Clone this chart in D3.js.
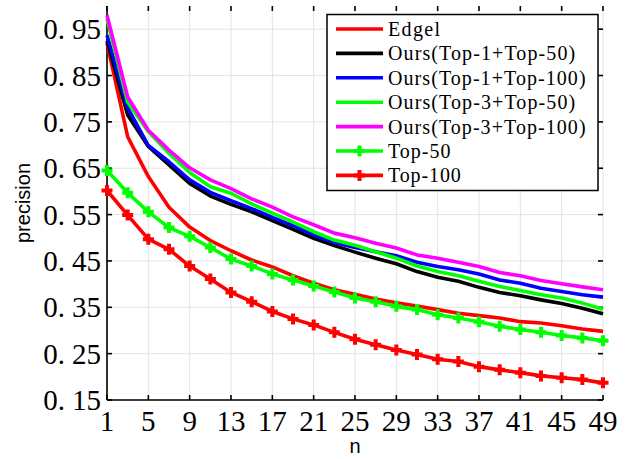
<!DOCTYPE html>
<html><head><meta charset="utf-8">
<script src="https://cdn.jsdelivr.net/npm/d3@7"></script>
<style>html,body{margin:0;padding:0;background:#fff;}svg{display:block;}</style>
</head><body>
<svg id="c" width="628" height="459"></svg>
<script>
const nVals = [1,3,5,7,9,11,13,15,17,19,21,23,25,27,29,31,33,35,37,39,41,43,45,47,49];
const edgel   = [0.920,0.718,0.632,0.566,0.523,0.494,0.472,0.452,0.437,0.418,0.402,0.388,0.378,0.368,0.360,0.353,0.345,0.337,0.332,0.327,0.319,0.316,0.310,0.303,0.298];
const ours1_50  = [0.925,0.765,0.697,0.657,0.617,0.590,0.572,0.556,0.537,0.518,0.499,0.483,0.469,0.456,0.444,0.427,0.415,0.406,0.393,0.382,0.375,0.366,0.358,0.348,0.336];
const ours1_100 = [0.937,0.780,0.699,0.664,0.625,0.598,0.580,0.563,0.544,0.526,0.506,0.490,0.479,0.470,0.461,0.447,0.438,0.431,0.422,0.409,0.402,0.391,0.384,0.377,0.372];
const ours3_50  = [0.972,0.793,0.729,0.682,0.641,0.610,0.596,0.573,0.553,0.534,0.513,0.495,0.484,0.470,0.456,0.439,0.427,0.418,0.406,0.395,0.386,0.377,0.370,0.359,0.346];
const ours3_100 = [0.980,0.804,0.732,0.689,0.651,0.625,0.606,0.584,0.566,0.545,0.528,0.510,0.500,0.488,0.478,0.463,0.456,0.447,0.438,0.425,0.418,0.408,0.401,0.394,0.388];
const top50  = [0.645,0.597,0.556,0.522,0.503,0.479,0.454,0.439,0.422,0.409,0.396,0.383,0.370,0.362,0.352,0.345,0.334,0.327,0.319,0.309,0.302,0.296,0.289,0.284,0.278];
const top100 = [0.602,0.549,0.497,0.475,0.439,0.411,0.382,0.362,0.341,0.325,0.312,0.296,0.281,0.269,0.258,0.248,0.238,0.233,0.222,0.215,0.209,0.202,0.198,0.194,0.187];
const seriesNames = ["Edgel","Ours(Top-1+Top-50)","Ours(Top-1+Top-100)","Ours(Top-3+Top-50)","Ours(Top-3+Top-100)","Top-50","Top-100"];
const seriesValues = [edgel,ours1_50,ours1_100,ours3_50,ours3_100,top50,top100];
const seriesColors = ["#ff0000","#000000","#0000ff","#00ff00","#ff00ff","#00ff00","#ff0000"];
const seriesMarkers = [false,false,false,false,false,true,true];
const xTicks = [1,5,9,13,17,21,25,29,33,37,41,45,49];
const yTicks = [0.15,0.25,0.35,0.45,0.55,0.65,0.75,0.85,0.95];

const L=107,R=603,T=6,B=400;
const svg = d3.select("#c");
const x = d3.scaleLinear().domain([1,49]).range([L,R]);
const y = d3.scaleLinear().domain([0.15,1.0]).range([B,T]);

// grid
const g = svg.append("g");
g.selectAll(".gx").data(xTicks).join("line")
  .attr("x1",d=>x(d)).attr("x2",d=>x(d)).attr("y1",T).attr("y2",B)
  .attr("stroke","#e3e3e3").attr("stroke-width",1);
g.selectAll(".gy").data(yTicks).join("line")
  .attr("y1",d=>y(d)).attr("y2",d=>y(d)).attr("x1",L).attr("x2",R)
  .attr("stroke","#e3e3e3").attr("stroke-width",1);

// axes (inward ticks)
const tk = 5;
const ax = svg.append("g").attr("stroke","#000").attr("stroke-width",1.6);
ax.append("line").attr("x1",L).attr("x2",L).attr("y1",T).attr("y2",B);
ax.append("line").attr("x1",L).attr("x2",R).attr("y1",B).attr("y2",B);
xTicks.forEach(d=>{
  ax.append("line").attr("x1",x(d)).attr("x2",x(d)).attr("y1",B).attr("y2",B-tk);
  ax.append("line").attr("x1",x(d)).attr("x2",x(d)).attr("y1",T).attr("y2",T+tk);
});
yTicks.forEach(d=>{
  ax.append("line").attr("x1",L).attr("x2",L+tk).attr("y1",y(d)).attr("y2",y(d));
  ax.append("line").attr("x1",R).attr("x2",R-tk).attr("y1",y(d)).attr("y2",y(d));
});

// tick labels
const tf = "'Liberation Serif', 'Times New Roman', serif";
svg.append("g").selectAll("text").data(xTicks).join("text")
  .attr("x",d=>x(d)).attr("y",431).attr("text-anchor","middle")
  .attr("font-family",tf).attr("font-size",29).attr("fill","#000")
  .text(d=>String(d));
const yl = svg.append("g").selectAll("text").data(yTicks).join("text")
  .attr("x",101).attr("y",d=>y(d)+10).attr("text-anchor","end")
  .attr("font-family",tf).attr("font-size",29).attr("fill","#000");
yl.append("tspan").text(d=>d.toFixed(2).slice(0,2));
yl.append("tspan").attr("dx",7).text(d=>d.toFixed(2).slice(2));

// axis titles
svg.append("text").attr("x",(L+R)/2).attr("y",453).attr("text-anchor","middle")
  .attr("font-family","'Liberation Sans', Arial, sans-serif").attr("font-size",20).text("n");
svg.append("text").attr("transform",`translate(30,${(T+B)/2}) rotate(-90)`).attr("text-anchor","middle")
  .attr("font-family","'Liberation Sans', Arial, sans-serif").attr("font-size",20).text("precision");

// lines
const line = d3.line().x((d,i)=>x(nVals[i])).y(d=>y(d));
const plusPath = (s)=>`M${-s},0H${s}M0,${-s}V${s}`;
seriesValues.forEach((vals,k)=>{
  const sg = svg.append("g");
  sg.append("path").datum(vals).attr("d",line).attr("fill","none")
    .attr("stroke",seriesColors[k]).attr("stroke-width",3.6).attr("stroke-linejoin","round");
  if(seriesMarkers[k]){
    sg.selectAll("path.m").data(vals).join("path").attr("class","m")
      .attr("transform",(d,i)=>`translate(${x(nVals[i])},${y(d)})`)
      .attr("d",plusPath(5.5)).attr("stroke",seriesColors[k]).attr("stroke-width",4).attr("fill","none");
  }
});

// legend
const lg = svg.append("g");
lg.append("rect").attr("x",327).attr("y",14.5).attr("width",271).attr("height",176)
  .attr("fill","#fff").attr("stroke","#000").attr("stroke-width",1.5);
seriesNames.forEach((name,k)=>{
  const yy = 29 + k*24.4;
  lg.append("line").attr("x1",336).attr("x2",383).attr("y1",yy).attr("y2",yy)
    .attr("stroke",seriesColors[k]).attr("stroke-width",3.6);
  if(seriesMarkers[k]){
    lg.append("path").attr("transform",`translate(359.5,${yy})`).attr("d",plusPath(5.5))
      .attr("stroke",seriesColors[k]).attr("stroke-width",4).attr("fill","none");
  }
  lg.append("text").attr("x",388).attr("y",yy+7).attr("font-family",tf)
    .attr("font-size",20).attr("fill","#000")
    .attr("textLength",name.length*10.4).attr("lengthAdjust","spacing").text(name);
});
</script>
</body></html>
